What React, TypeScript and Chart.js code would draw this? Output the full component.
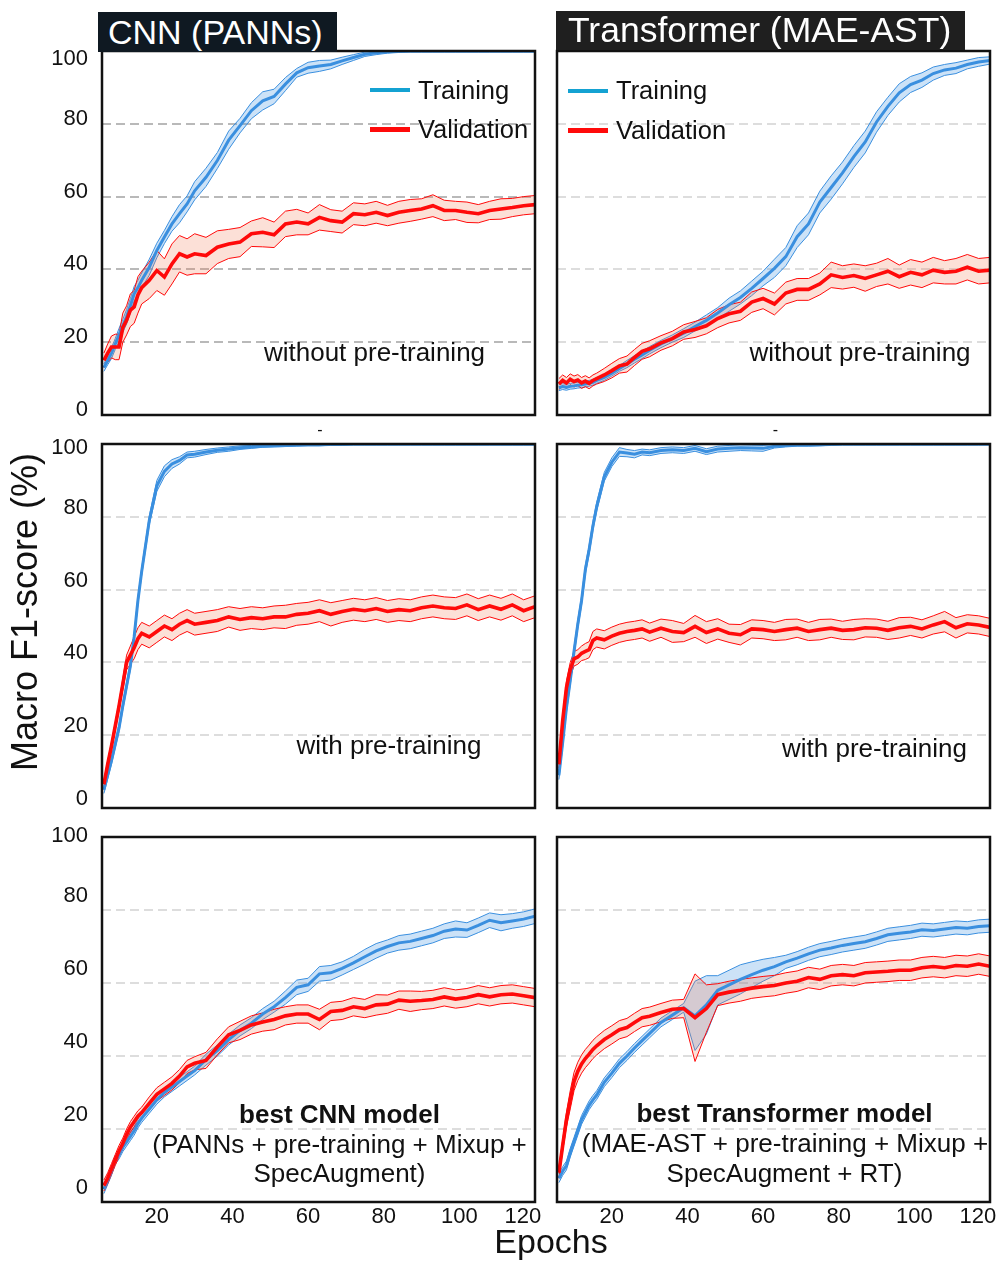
import React, { useEffect, useRef } from 'react';
import { Chart, registerables } from 'chart.js';

Chart.register(...registerables);

const FONT = '"Liberation Sans", Arial, Helvetica, sans-serif';

// ---------- shared axes ----------
const EPOCHS = [
  6, 7, 8, 9, 10, 11, 12, 13, 14, 15, 16,
  18, 20, 22, 24, 26, 28, 30,
  33, 36, 39, 42, 45, 48, 51, 54, 57, 60,
  63, 66, 69, 72, 75, 78, 81, 84, 87, 90,
  93, 96, 99, 102, 105, 108, 111, 114, 117, 120,
];
const X_TICKS = [20, 40, 60, 80, 100, 120];
const Y_TICKS = [0, 20, 40, 60, 80, 100];
const X_MIN = 5.5;
const X_MAX = 120;

// ---------- CNN (PANNs) without pre-training ----------
const cnnScratchTrain = [
  13, 15, 17, 19.5, 22, 24.5, 27, 30, 33.3, 35, 37,
  40.6, 45.2, 48.9, 52.5, 55.3, 58, 61.6,
  65.3, 69.9, 75.5, 79.5, 83.6, 86.3, 87.5, 90.9, 94, 95.4,
  95.9, 96.3, 97.3, 98.2, 99.1, 99.5, 99.8, 99.9, 100, 100,
  100, 100, 100, 100, 100, 100, 100, 100, 100, 100,
];
const cnnScratchTrainSd = [
  1, 1.2, 1.5, 1.5, 1.8, 1.8, 2, 2, 2, 2, 2,
  2.2, 2, 1.8, 2, 2.5, 2.2, 2.5,
  2.5, 2.2, 2.5, 2, 2.2, 2.5, 2, 1.8, 1.2, 1.5,
  1.5, 1.2, 1, 0.8, 0.6, 0.5, 0.4, 0.3, 0.3, 0.3,
  0.3, 0.3, 0.3, 0.3, 0.3, 0.3, 0.3, 0.3, 0.3, 0.3,
];
const cnnScratchVal = [
  15, 17, 18.7, 18.7, 18.7, 24, 26, 28.8, 29.7, 33, 35,
  37, 39.7, 37.9, 41.5, 44.3, 43.4, 44.3,
  43.8, 46.1, 47, 47.5, 49.8, 50.2, 49.5, 52.5, 53, 52.5,
  54.3, 53.4, 53, 55.3, 55, 55.7, 54.8, 55.7, 56.2, 56.6,
  57.5, 56.2, 56.2, 55.7, 55.3, 56.2, 56.6, 57, 57.5, 57.8,
];
const cnnScratchValSd = [
  2, 2.5, 3, 3.5, 3.5, 4, 4, 4.5, 4.5, 5, 4.5,
  5, 5.5, 5, 5.5, 5, 5, 5.5,
  5, 4.5, 4, 4, 3.5, 4, 3.5, 3.5, 3.5, 3,
  3.5, 3, 3, 3, 3, 3, 2.8, 3, 3, 2.8,
  3, 2.8, 2.5, 2.8, 2.5, 2.5, 2.8, 2.5, 2.5, 2.5,
];

// ---------- Transformer (MAE-AST) without pre-training ----------
const astScratchTrain = [
  7.5, 7.8, 7.6, 7.9, 8, 8.2, 8.3, 8.5, 8.7, 9, 9.5,
  10.3, 11.5, 12.8, 14, 15.3, 16.5, 17.8,
  19.5, 21, 22.5, 24.3, 26, 28, 30.3, 32.3, 34.8, 37.5,
  40.3, 43.5, 49, 52.5, 58.5, 62.5, 66.5, 71, 75, 80.5,
  84.8, 88.5, 90.8, 92, 93.8, 94.8, 95.3, 96.3, 97, 97.4,
];
const astScratchTrainSd = [
  0.8, 0.8, 0.8, 0.8, 0.8, 0.8, 0.8, 0.8, 0.8, 0.8, 0.8,
  0.8, 0.8, 0.8, 1, 1, 1, 1,
  1, 1, 1.2, 1.2, 1.5, 1.5, 1.8, 1.8, 2, 2,
  2.5, 2.5, 3, 3, 3, 3.2, 3, 3, 3, 2.8,
  2.5, 2.5, 2.2, 2, 1.8, 1.5, 1.5, 1.2, 1.2, 1,
];
const astScratchVal = [
  8.5, 9.5, 8.8, 9.8, 9.2, 9.6, 8.8, 9.3, 8.7, 9.5, 10,
  11, 12.2, 13.5, 14, 15.8, 17.5, 18.2,
  19.8, 21, 22.8, 23.5, 24.5, 26.5, 27.8, 28.5, 31, 32,
  30.5, 33.5, 34.5, 34.5, 36, 38.5, 37.8, 38.3, 37.5, 38.5,
  39.5, 38, 39.2, 38.5, 39.8, 39.2, 39.5, 40.6, 39.5, 39.8,
];
const astScratchValSd = [
  1.5, 1.5, 1.5, 1.5, 1.5, 1.5, 1.5, 1.5, 1.5, 1.5, 1.5,
  1.8, 2, 2, 2.2, 2.2, 2.2, 2.2,
  2, 2, 2, 2.2, 2.2, 2.5, 2.5, 2.5, 2.8, 2.8,
  3, 3, 3, 3, 3, 3.5, 3.2, 3.2, 3.5, 3.2,
  3.5, 3.2, 3.5, 3.5, 3.5, 3.2, 3.5, 3.5, 3.5, 3.5,
];

// ---------- CNN (PANNs) with pre-training ----------
const cnnPreTrain = [
  5, 9, 13, 17.5, 22, 28, 33.5, 39, 47, 57, 65,
  79, 88.5, 92.5, 94.5, 95.5, 97, 97.2,
  97.8, 98.3, 98.6, 99, 99.2, 99.4, 99.5, 99.6, 99.7, 99.8,
  99.8, 99.9, 99.9, 100, 100, 100, 100, 100, 100, 100,
  100, 100, 100, 100, 100, 100, 100, 100, 100, 100,
];
const cnnPreTrainSd = [
  1, 1, 1, 1, 1, 1, 1, 1, 1, 1, 1,
  1.2, 1.5, 1.5, 1.2, 1, 0.8, 0.8,
  0.7, 0.6, 0.6, 0.5, 0.4, 0.3, 0.3, 0.3, 0.3, 0.3,
  0.3, 0.3, 0.3, 0.3, 0.3, 0.3, 0.3, 0.3, 0.3, 0.3,
  0.3, 0.3, 0.3, 0.3, 0.3, 0.3, 0.3, 0.3, 0.3, 0.3,
];
const cnnPreVal = [
  6.5, 12, 17, 22.5, 28, 34, 40, 42, 44, 46.5, 48,
  47, 48.5, 50, 49, 50.5, 51.5, 50.5,
  51, 51.5, 52.5, 51.8, 52.3, 52, 52.5, 52.5, 53.2, 53.5,
  54.2, 53.2, 54, 54.6, 54.2, 54.8, 54, 54.5, 54.2, 55,
  55.5, 55, 54.8, 55.8, 54.5, 55.5, 54.6, 55.8, 54.2, 55.3,
];
const cnnPreValSd = [
  1, 1, 1, 1, 1.2, 1.5, 2, 2.5, 3, 3, 3,
  3, 3, 3, 3, 3, 3, 3,
  3, 3, 2.8, 3, 3, 3, 3, 3.2, 3, 3,
  3, 3.2, 3, 3, 3, 3, 3, 3, 3, 3,
  3, 3, 3, 3, 3, 3, 3, 3, 3, 3,
];

// ---------- Transformer (MAE-AST) with pre-training ----------
const astPreTrain = [
  9, 18, 27.5, 35, 43, 50.5, 57, 65.5, 71, 77.5, 82.8,
  91, 95, 97.8, 97.5, 97.2, 97.8, 97.6,
  98.2, 98.4, 98.2, 98.8, 97.9, 98.6, 98.8, 99, 98.9, 98.8,
  99.4, 99.6, 99.7, 99.7, 99.8, 99.9, 100, 100, 100, 100,
  100, 100, 100, 100, 100, 100, 100, 100, 100, 100,
];
const astPreTrainSd = [
  1.2, 1.2, 1.2, 1.2, 1.2, 1.2, 1.2, 1.2, 1.2, 1.2, 1.2,
  1.2, 1.2, 1.2, 1, 1, 0.8, 0.8,
  0.8, 0.8, 0.8, 0.8, 0.8, 0.8, 0.8, 0.8, 0.8, 0.8,
  0.5, 0.4, 0.3, 0.3, 0.3, 0.3, 0.3, 0.3, 0.3, 0.3,
  0.3, 0.3, 0.3, 0.3, 0.3, 0.3, 0.3, 0.3, 0.3, 0.3,
];
const astPreVal = [
  12, 24, 33, 38, 41, 41.5, 42.5, 43, 43.5, 46, 46.7,
  46.2, 47.2, 48, 48.5, 48.8, 49.2, 48.3,
  49.4, 48.5, 48.2, 49.9, 48.2, 49.2, 48, 47.6, 49.2, 49,
  48.5, 49, 49.4, 48.5, 49, 49.4, 48.8, 49, 49.5, 49.4,
  48.8, 49.5, 49.9, 49.2, 50.3, 51.2, 49.5, 50.6, 50.3, 49.6,
];
const astPreValSd = [
  1, 1.5, 2, 2, 2, 2, 2, 2.2, 2.2, 2.5, 2.5,
  2.5, 2.5, 2.5, 2.5, 2.5, 2.5, 2.5,
  2.5, 3, 2.5, 3, 3, 2.8, 2.5, 2.8, 2.5, 2.5,
  2.5, 2.8, 2.5, 2.5, 2.8, 2.5, 2.5, 2.8, 2.5, 2.5,
  2.5, 2.8, 2.5, 2.5, 2.5, 2.8, 2.8, 2.5, 2.5, 2.5,
];

// ---------- best CNN model ----------
const bestCnnTrain = [
  3.5, 6, 8.5, 11.5, 13, 15, 16.5, 18, 19.5, 21.5, 23,
  25.5, 28, 30, 31.5, 33, 34.5, 36,
  39, 41.5, 44.5, 47, 49, 51.5, 53.5, 56, 58.8, 59.5,
  62.5, 62.8, 64, 65.5, 67.2, 68.8, 70, 71, 71.4, 72.2,
  73, 74.2, 74.8, 74.5, 75.8, 77.2, 76.5, 77, 77.5, 78.3,
];
const bestCnnTrainSd = [
  1.2, 1.2, 1.2, 1.2, 1.2, 1.2, 1.2, 1.2, 1.2, 1.2, 1.2,
  1.2, 1.2, 1.2, 1.2, 1.2, 1.2, 1.2,
  1.5, 1.5, 1.5, 1.5, 1.5, 1.5, 1.5, 1.8, 2, 1.8,
  2, 2, 1.8, 1.8, 2, 2, 1.8, 2, 2, 2,
  2, 2, 2.2, 2, 2, 2, 2.2, 2, 2, 2,
];
const bestCnnVal = [
  4.5, 6.5, 9, 11.5, 14, 16, 18.5, 20.5, 22, 23.5, 24.5,
  27, 29.5, 31, 32.5, 34.5, 37, 38,
  38.8, 42.5, 45.8, 47, 48.5, 49.3, 50, 51, 51.5, 51.5,
  50, 52.2, 52.5, 53.5, 53, 54, 54.2, 55.3, 55, 55.2,
  55.5, 56.2, 55.6, 56, 56.8, 56.2, 56.8, 57, 56.5, 56,
];
const bestCnnValSd = [
  1.5, 1.5, 1.5, 1.5, 1.5, 1.5, 1.5, 1.5, 1.5, 1.5, 1.5,
  1.8, 1.8, 1.8, 1.8, 1.8, 1.8, 1.8,
  2.2, 2.2, 2.2, 2.5, 2.5, 2.5, 2.8, 2.5, 2.5, 2.5,
  2.8, 2.5, 2.5, 2.5, 2.5, 2.8, 2.5, 2.5, 2.8, 2.5,
  2.5, 2.5, 2.5, 2.5, 2.5, 2.5, 2.5, 2.5, 2.5, 2.5,
];

// ---------- best Transformer model ----------
const bestAstTrain = [
  6.5, 8.5, 10, 13.5, 16.5, 19.5, 22.5, 24.5, 26.5, 28, 29.3,
  32.8, 35.3, 38, 40, 42.2, 44.2, 46.2,
  49.2, 51.2, 53.2, 51, 54, 58, 59.5, 61, 62.3, 63.5,
  64.5, 65.8, 66.8, 68, 69, 69.6, 70.3, 70.8, 71.3, 72.2,
  73.2, 73.6, 74, 74.6, 74.4, 74.8, 75.2, 75, 75.5, 75.7,
];
const bestAstTrainSd = [
  1.2, 1.2, 1.2, 1.2, 1.2, 1.2, 1.2, 1.2, 1.2, 1.2, 1.2,
  1.2, 1.2, 1.2, 1.2, 1.2, 1.2, 1.2,
  1.2, 1.2, 1.2, 9.5, 8, 4, 4, 4, 3.5, 3,
  2.5, 1.8, 1.8, 1.8, 1.8, 1.8, 1.8, 1.8, 1.8, 1.8,
  1.8, 1.8, 1.8, 1.8, 1.8, 1.8, 1.8, 1.8, 1.8, 1.8,
];
const bestAstVal = [
  8, 15.5, 22.6, 28, 33, 35.8, 37.8, 39.3, 40.5, 41.8, 42.8,
  44.5, 45.8, 47.2, 47.8, 49.2, 50.5, 50.9,
  51.9, 52.8, 53, 50.5, 53, 56.8, 57.5, 58, 58.6, 59,
  59.3, 60, 60.5, 61.5, 61, 62, 62.3, 62, 62.8, 63,
  63.2, 63.5, 63.5, 64.2, 64.5, 64.2, 64.8, 64.6, 65.2, 64.6,
];
const bestAstValSd = [
  1.5, 1.5, 2, 2.5, 2.5, 2.5, 2.5, 2.5, 2.5, 2.5, 2.5,
  2.5, 2.5, 2.5, 2.5, 2.5, 2.5, 2.5,
  2.5, 2.5, 2.5, 12, 6.5, 3, 3, 3, 2.8, 2.8,
  2.8, 2.8, 2.8, 2.8, 2.8, 2.8, 2.8, 2.8, 2.8, 2.8,
  2.8, 2.8, 2.8, 2.8, 2.8, 2.8, 2.8, 2.8, 2.8, 2.8,
];

// ---------- styles ----------
const BLUE = '#3a8fdf';
const BLUE_FILL = 'rgba(58,143,223,0.26)';
const RED = '#ff0a0a';
const RED_FILL = 'rgba(240,120,80,0.23)';
const LEGEND_BLUE = '#14a2d2';

type PanelSpec = {
  id: string;
  train: number[];
  trainSd: number[];
  val: number[];
  valSd: number[];
  left: number;
  top: number;
  width: number;
  height: number;
  padRight: number;
  showY: boolean;
  showX: boolean;
  grid: string;
  yLabelOffset: number;
};

const LEFT_X = 102;
const RIGHT_X = 557;
const AREA_W = 433;

const PANELS: PanelSpec[] = [
  { id: 'p1', train: cnnScratchTrain, trainSd: cnnScratchTrainSd, val: cnnScratchVal, valSd: cnnScratchValSd,
    left: LEFT_X, top: 51, width: AREA_W, height: 364, padRight: 10, showY: true, showX: false, grid: '#b9b9b9', yLabelOffset: -5 },
  { id: 'p2', train: astScratchTrain, trainSd: astScratchTrainSd, val: astScratchVal, valSd: astScratchValSd,
    left: RIGHT_X, top: 51, width: AREA_W, height: 364, padRight: 8, showY: false, showX: false, grid: '#dddddd', yLabelOffset: -5 },
  { id: 'p3', train: cnnPreTrain, trainSd: cnnPreTrainSd, val: cnnPreVal, valSd: cnnPreValSd,
    left: LEFT_X, top: 444, width: AREA_W, height: 364, padRight: 10, showY: true, showX: false, grid: '#dddddd', yLabelOffset: -9 },
  { id: 'p4', train: astPreTrain, trainSd: astPreTrainSd, val: astPreVal, valSd: astPreValSd,
    left: RIGHT_X, top: 444, width: AREA_W, height: 364, padRight: 8, showY: false, showX: false, grid: '#dddddd', yLabelOffset: -9 },
  { id: 'p5', train: bestCnnTrain, trainSd: bestCnnTrainSd, val: bestCnnVal, valSd: bestCnnValSd,
    left: LEFT_X, top: 837, width: AREA_W, height: 365, padRight: 10, showY: true, showX: true, grid: '#dddddd', yLabelOffset: -14 },
  { id: 'p6', train: bestAstTrain, trainSd: bestAstTrainSd, val: bestAstVal, valSd: bestAstValSd,
    left: RIGHT_X, top: 837, width: AREA_W, height: 365, padRight: 8, showY: false, showX: true, grid: '#dddddd', yLabelOffset: -14 },
];

const framePlugin = {
  id: 'frame',
  afterDatasetsDraw(chart: any) {
    const { ctx, chartArea: a } = chart;
    ctx.save();
    ctx.strokeStyle = '#111111';
    ctx.lineWidth = 2.5;
    ctx.strokeRect(a.left, a.top, a.right - a.left, a.bottom - a.top);
    ctx.restore();
  },
};

const Y_AXIS_W = 70;
const PAD_TOP = 30;

function noScalePadding(s: any) {
  s.paddingTop = 0;
  s.paddingBottom = 0;
  s.paddingLeft = 0;
  s.paddingRight = 0;
}

function PanelChart({ spec }: { spec: PanelSpec }) {
  const ref = useRef<HTMLCanvasElement>(null);
  const xAxisH = spec.showX ? 40 : 12;
  const canvasW = Y_AXIS_W + spec.width + spec.padRight;
  const canvasH = PAD_TOP + spec.height + xAxisH;

  useEffect(() => {
    if (!ref.current) return;
    const pts = (mean: number[], sd: number[] | null, sign: number) =>
      EPOCHS.map((e, i) => ({ x: e, y: mean[i] + sign * (sd ? sd[i] : 0) }));
    const tickFont = { family: FONT, size: 22 };
    const chart = new Chart(ref.current, {
      type: 'line',
      data: {
        datasets: [
          { label: 'train-lo', data: pts(spec.train, spec.trainSd, -1), borderColor: BLUE, borderWidth: 1, pointRadius: 0, fill: false, order: 3 },
          { label: 'train-hi', data: pts(spec.train, spec.trainSd, 1), borderColor: BLUE, borderWidth: 1, pointRadius: 0, fill: '-1', backgroundColor: BLUE_FILL, order: 3 },
          { label: 'val-lo', data: pts(spec.val, spec.valSd, -1), borderColor: RED, borderWidth: 1, pointRadius: 0, fill: false, order: 2 },
          { label: 'val-hi', data: pts(spec.val, spec.valSd, 1), borderColor: RED, borderWidth: 1, pointRadius: 0, fill: '-1', backgroundColor: RED_FILL, order: 2 },
          { label: 'Training', data: pts(spec.train, null, 0), borderColor: BLUE, borderWidth: 3, pointRadius: 0, fill: false, order: 1 },
          { label: 'Validation', data: pts(spec.val, null, 0), borderColor: RED, borderWidth: 3.6, pointRadius: 0, fill: false, order: 0 },
        ],
      } as any,
      options: {
        responsive: false,
        animation: false,
        devicePixelRatio: 1,
        events: [],
        layout: { padding: { top: PAD_TOP, right: spec.padRight, left: 0, bottom: 0 }, autoPadding: false },
        elements: { line: { tension: 0 } },
        plugins: { legend: { display: false }, tooltip: { enabled: false }, title: { display: false } },
        scales: {
          x: {
            type: 'linear',
            min: X_MIN,
            max: X_MAX,
            afterBuildTicks: (s: any) => { s.ticks = X_TICKS.map((v) => ({ value: v })); },
            afterFit: (s: any) => { s.height = xAxisH; noScalePadding(s); },
            ticks: {
              display: spec.showX,
              autoSkip: false,
              maxRotation: 0,
              padding: 2,
              color: '#111111',
              font: tickFont,
              callback: (v: any) => (v === 120 ? '120\u00a0\u00a0\u00a0\u00a0' : String(v)),
            },
            grid: { display: false, drawTicks: false },
            border: { display: false },
          },
          y: {
            type: 'linear',
            min: 0,
            max: 100,
            afterBuildTicks: (s: any) => { s.ticks = Y_TICKS.map((v) => ({ value: v })); },
            afterFit: (s: any) => { s.width = Y_AXIS_W; noScalePadding(s); },
            ticks: {
              display: spec.showY,
              autoSkip: false,
              padding: 14,
              labelOffset: spec.yLabelOffset,
              color: '#111111',
              font: tickFont,
              // the top label sits just inside the frame, one line lower
              callback: (v: any) => (v === 100 ? ['', '100'] : String(v)),
            },
            grid: {
              display: true,
              drawTicks: false,
              lineWidth: 2,
              color: (ctx: any) =>
                ctx.tick && (ctx.tick.value === 0 || ctx.tick.value === 100) ? 'rgba(0,0,0,0)' : spec.grid,
            },
            border: { display: false, dash: [9, 5] },
          },
        },
      } as any,
      plugins: [framePlugin],
    });
    return () => chart.destroy();
  }, []);

  return (
    <canvas
      ref={ref}
      width={canvasW}
      height={canvasH}
      style={{ position: 'absolute', left: spec.left - Y_AXIS_W, top: spec.top - PAD_TOP, width: canvasW, height: canvasH }}
    />
  );
}

// text placed by its baseline (Liberation Sans metrics)
function Txt({ text, x, baseline, size, bold = false, align = 'center', color = '#111111' }:
  { text: string; x: number; baseline: number; size: number; bold?: boolean; align?: string; color?: string }) {
  const top = baseline - 0.8465 * size;
  const W = 600;
  const left = align === 'center' ? x - W / 2 : x;
  return (
    <div
      style={{
        position: 'absolute', left, top, width: W, height: size,
        lineHeight: `${size}px`, fontSize: size, fontWeight: bold ? 700 : 400,
        fontFamily: FONT, color, whiteSpace: 'nowrap',
        textAlign: align === 'center' ? 'center' : 'left',
      }}
    >
      {text}
    </div>
  );
}

function LegendBox({ x, yTrain, yVal, textX, baseTrain, baseVal }:
  { x: number; yTrain: number; yVal: number; textX: number; baseTrain: number; baseVal: number }) {
  return (
    <>
      <div style={{ position: 'absolute', left: x, top: yTrain - 2, width: 40, height: 4, background: LEGEND_BLUE }} />
      <div style={{ position: 'absolute', left: x, top: yVal - 2.5, width: 40, height: 5, background: RED }} />
      <Txt text="Training" x={textX} baseline={baseTrain} size={25.5} align="left" />
      <Txt text="Validation" x={textX} baseline={baseVal} size={25.5} align="left" />
    </>
  );
}

export default function App() {
  return (
    <div style={{ position: 'absolute', left: 0, top: 0, width: 998, height: 1262, overflow: 'hidden', background: '#ffffff', fontFamily: FONT }}>
      {PANELS.map((p) => <PanelChart key={p.id} spec={p} />)}

      {/* column titles */}
      <div style={{ position: 'absolute', left: 98, top: 12, width: 239, height: 40, background: '#0f1922', color: '#ffffff',
        fontFamily: FONT, fontSize: 34, lineHeight: '40px', paddingLeft: 10, boxSizing: 'border-box', whiteSpace: 'nowrap' }}>
        CNN (PANNs)
      </div>
      <div style={{ position: 'absolute', left: 556, top: 11, width: 409, height: 39, background: '#1f1f1f', color: '#ffffff',
        fontFamily: FONT, fontSize: 35.5, lineHeight: '39px', paddingLeft: 12, boxSizing: 'border-box', whiteSpace: 'nowrap' }}>
        Transformer (MAE-AST)
      </div>

      {/* legends */}
      <LegendBox x={370} yTrain={90} yVal={129} textX={418} baseTrain={99.3} baseVal={138.3} />
      <LegendBox x={568} yTrain={90.7} yVal={130.7} textX={616} baseTrain={100} baseVal={139.3} />

      {/* panel annotations */}
      <Txt text="without pre-training" x={374.5} baseline={361} size={26} />
      <Txt text="without pre-training" x={860} baseline={361} size={26} />
      <Txt text="with pre-training" x={389} baseline={754} size={26} />
      <Txt text="with pre-training" x={874.5} baseline={757} size={26} />

      <Txt text="best CNN model" x={339.5} baseline={1123} size={26} bold />
      <Txt text="(PANNs + pre-training + Mixup +" x={339.5} baseline={1153} size={26} />
      <Txt text="SpecAugment)" x={339.5} baseline={1182} size={26} />

      <Txt text="best Transformer model" x={784.5} baseline={1122} size={26} bold />
      <Txt text="(MAE-AST + pre-training + Mixup +" x={785} baseline={1152} size={26} />
      <Txt text="SpecAugment + RT)" x={784.5} baseline={1182} size={26} />

      <Txt text="-" x={320} baseline={436} size={16} />
      <Txt text="-" x={775.5} baseline={436} size={16} />

      {/* axis titles */}
      <div style={{ position: 'absolute', left: 24.7 - 250, top: 611.7 - 18, width: 500, height: 36, lineHeight: '36px',
        fontSize: 36, fontFamily: FONT, color: '#111111', textAlign: 'center', whiteSpace: 'nowrap', transform: 'rotate(-90deg)' }}>
        Macro F1-score (%)
      </div>
      <Txt text="Epochs" x={551} baseline={1253} size={34} />
    </div>
  );
}
